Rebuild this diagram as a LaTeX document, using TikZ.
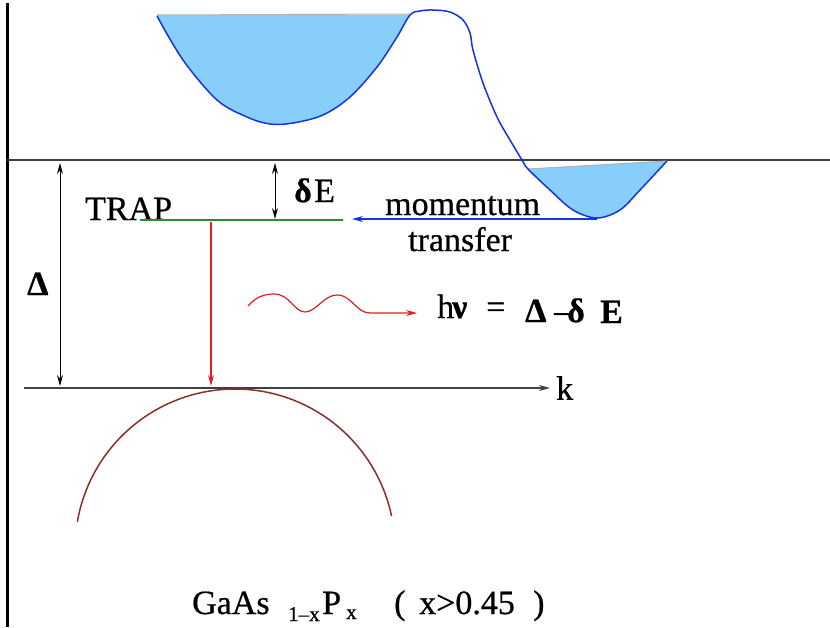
\documentclass[tikz,border=0pt]{standalone}
\usepackage{fontspec}
\setmainfont{Liberation Serif}
\newfontfamily\reffont{Liberation Serif}[FakeBold=0.6]
\usetikzlibrary{arrows.meta}
\definecolor{fillblue}{HTML}{87CEFA}
\definecolor{curveblue}{HTML}{1535E0}
\definecolor{trapgreen}{HTML}{2E8B2E}
\definecolor{photred}{HTML}{E02020}
\definecolor{arcbrown}{HTML}{8B2E2E}
\definecolor{axisgray}{HTML}{404040}
\begin{document}
\begin{tikzpicture}[x=1pt,y=-1pt,
  lbl/.style={font=\reffont\fontsize{34}{36}\selectfont, inner sep=0pt},
  sublbl/.style={font=\reffont\fontsize{21}{24}\selectfont, inner sep=0pt},
  tipend/.style={-{Stealth[length=11pt,width=6pt]}},
  tipboth/.style={{Stealth[length=11pt,width=6pt]}-{Stealth[length=11pt,width=6pt]}},
  ]
\useasboundingbox (0,0) rectangle (830,627);
\fill[white] (0,0) rectangle (830,627);

% frame lines and axes
\coordinate (v0) at (7,3); \coordinate (v1) at (7,627);
\draw[line width=3pt] (v0) -- (v1);
\coordinate (c0) at (7,160); \coordinate (c1) at (830,160);
\draw[axisgray, line width=2pt] (c0) -- (c1);
\coordinate (ax0) at (24,388); \coordinate (ax1) at (550,388);
\draw[axisgray, line width=2pt, tipend] (ax0) -- (ax1);
\node[lbl, anchor=west] (k) at (556,388) {k};

% conduction band fills
\fill[fillblue] (157,15) -- plot[smooth] coordinates {(157,16) (183,60) (217,100) (247,117) (270,124) (293,123) (323,115) (350,97) (377,67) (397,37) (410,15)} -- cycle;
\draw[gray!60, line width=1pt] (157,15) -- (410,14);
\fill[fillblue] (528,169) -- plot[smooth] coordinates {(528,170) (550,190) (573,210) (597,218) (620,210) (640,190) (667,161)} -- cycle;
\draw[gray!60, line width=1pt] (528,169) -- (667,161);

% conduction band curve
\draw[curveblue, line width=1.5pt] plot[smooth, tension=0.55] coordinates {(157,16) (183,60) (217,100) (247,117) (270,124) (293,123) (323,115) (350,97) (377,67) (397,37) (410,15) (420,11) (433,10) (450,12) (463,20) (470,33) (473,50) (483,83) (497,117) (510,140) (522,160) (528,169) (550,190) (573,210) (597,218) (620,210) (640,190) (667,161)};

% momentum transfer arrow
\coordinate (m0) at (597,219); \coordinate (m1) at (352,219);
\draw[curveblue, line width=1.5pt, tipend] (m0) -- (m1);
\node[lbl, anchor=base west] (mom) at (385,215) {momentum};
\node[lbl, anchor=base west] (trans) at (408,251) {transfer};

% trap level
\node[lbl, anchor=base west] (trap) at (85,220) {TRAP};
\coordinate (g0) at (140,220); \coordinate (g1) at (343,220);
\draw[trapgreen, line width=1.8pt] (g0) -- (g1);

% delta E
\coordinate (d0) at (275,163); \coordinate (d1) at (275,219);
\draw[line width=1pt, tipboth] (d0) -- (d1);
\node[lbl, anchor=base west] (dd) at (294,202) {\textbf{δ}};
\node[lbl, anchor=base west] (dEE) at (314,202) {E};

% gap Delta
\coordinate (D0) at (60,163); \coordinate (D1) at (60,386);
\draw[line width=1pt, tipboth] (D0) -- (D1);
\node[lbl, anchor=base west] (Dl) at (27,295) {\textbf{Δ}};

% recombination
\coordinate (r0) at (211,222); \coordinate (r1) at (211,386);
\draw[photred, line width=1.2pt, tipend] (r0) -- (r1);

% photon
\coordinate (w1) at (417,313);
\draw[photred, line width=1.2pt, tipend] (248,306) .. controls (256,297) and (264,294) .. (274,294) .. controls (290,294) and (294,312) .. (305,312) .. controls (316,312) and (324,295) .. (337,295) .. controls (352,295) and (356,313) .. (370,313) -- (w1);
\node[lbl, anchor=base west] (hh) at (437,318) {h};
\node[lbl, anchor=base west] (nu) at (452,318) {\textbf{ν}};
\node[lbl, anchor=base west] (eq) at (486,318) {=};
\node[lbl, anchor=base west] (hD) at (525,322) {\textbf{Δ}};
\node[lbl, anchor=base west] (mn) at (554,322) {–};
\node[lbl, anchor=base west] (hd) at (567,322) {\textbf{δ}};
\node[lbl, anchor=base west] (hE) at (600,323) {\textbf{E}};

% valence band
\draw[arcbrown, line width=1.5pt] plot[domain=170.2:11.9, samples=80] ({235+160*cos(\x)},{549-160*sin(\x)});

% material label
\node[lbl, anchor=base west] (ga) at (192,614) {GaAs};
\node[sublbl, anchor=base west] (s1) at (288,621) {1–x};
\node[lbl, anchor=base west] (pp) at (322,614) {P};
\node[sublbl, anchor=base west] (s2) at (346,619) {x};
\node[lbl, anchor=base west] (lp) at (394,614) {(};
\node[lbl, anchor=base west] (cond) at (419,614) {x>0.45};
\node[lbl, anchor=base west] (rp) at (533,614) {)};
\end{tikzpicture}
\end{document}
